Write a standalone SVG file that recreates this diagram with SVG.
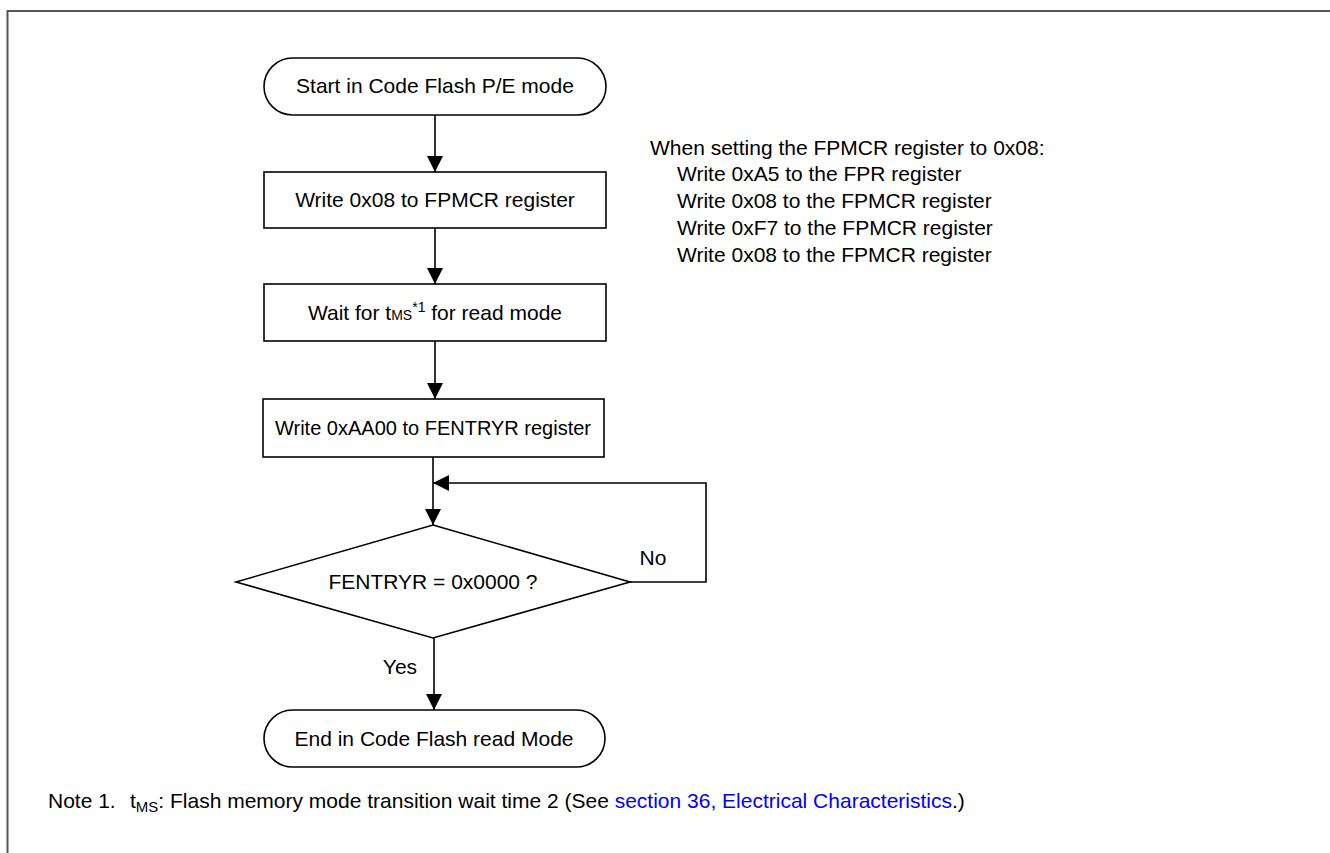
<svg xmlns="http://www.w3.org/2000/svg" width="1330" height="853" viewBox="0 0 1330 853">
<defs>
<marker id="arr" viewBox="0 0 16 16" refX="16" refY="8" markerWidth="16" markerHeight="16" markerUnits="userSpaceOnUse" orient="auto">
<path d="M0,0 L16,8 L0,16 Z" fill="#000"/>
</marker>
<style>
.shape{fill:#fff;stroke:#000;stroke-width:1.6}
.t{font-family:"Liberation Sans",Arial,sans-serif;font-size:21px;fill:#000}
.c{text-anchor:middle}
.conn{fill:none;stroke:#000;stroke-width:1.6}
.link{fill:#0000ff}
</style>
</defs>
<rect width="1330" height="853" fill="#fff"/>
<polyline points="7.5,853 7.5,11 1330,11" fill="none" stroke="#555" stroke-width="2"/>

<g id="start">
<rect class="shape" x="264" y="58" width="342" height="57" rx="28.5"/>
<text class="t c" x="435" y="93">Start in Code Flash P/E mode</text>
</g>
<g id="step1">
<rect class="shape" x="264" y="172" width="342" height="56"/>
<text class="t c" x="435" y="207">Write 0x08 to FPMCR register</text>
</g>
<g id="step2">
<rect class="shape" x="264" y="284" width="342" height="57"/>
<text class="t" x="435" y="320" text-anchor="middle">Wait for t<tspan font-size="14">MS</tspan><tspan font-size="14" dy="-8">*1</tspan><tspan dy="8"> for read mode</tspan></text>
</g>
<g id="step3">
<rect class="shape" x="263" y="399" width="341" height="58"/>
<text class="t c" x="433" y="435" font-size="20" style="font-size:20px">Write 0xAA00 to FENTRYR register</text>
</g>
<g id="decision">
<polygon class="shape" points="433,525 630,582 433,638 236,582"/>
<text class="t c" x="433" y="589">FENTRYR = 0x0000 ?</text>
</g>
<g id="end">
<rect class="shape" x="264" y="710" width="341" height="57" rx="28.5"/>
<text class="t c" x="434" y="746">End in Code Flash read Mode</text>
</g>

<g id="connectors">
<line class="conn" x1="435" y1="115" x2="435" y2="172" marker-end="url(#arr)"/>
<line class="conn" x1="435" y1="228" x2="435" y2="284" marker-end="url(#arr)"/>
<line class="conn" x1="435" y1="341" x2="435" y2="399" marker-end="url(#arr)"/>
<line class="conn" x1="433" y1="457" x2="433" y2="525" marker-end="url(#arr)"/>
<polyline class="conn" points="630,582 706,582 706,483 433,483" marker-end="url(#arr)"/>
<line class="conn" x1="434" y1="638" x2="434" y2="710" marker-end="url(#arr)"/>
<text class="t c" x="653" y="565">No</text>
<text class="t c" x="400" y="674">Yes</text>
</g>

<g id="side-note">
<text class="t" x="650" y="155">When setting the FPMCR register to 0x08:</text>
<text class="t" x="677" y="181">Write 0xA5 to the FPR register</text>
<text class="t" x="677" y="208">Write 0x08 to the FPMCR register</text>
<text class="t" x="677" y="235">Write 0xF7 to the FPMCR register</text>
<text class="t" x="677" y="262">Write 0x08 to the FPMCR register</text>
</g>

<g id="footnote">
<text class="t" x="48" y="808">Note 1.</text>
<text class="t" x="130" y="808">t<tspan font-size="15" dy="4">MS</tspan><tspan dy="-4">: Flash memory mode transition wait time 2 (See </tspan><tspan class="link">section 36, Electrical Characteristics</tspan>.)</text>
</g>
</svg>
